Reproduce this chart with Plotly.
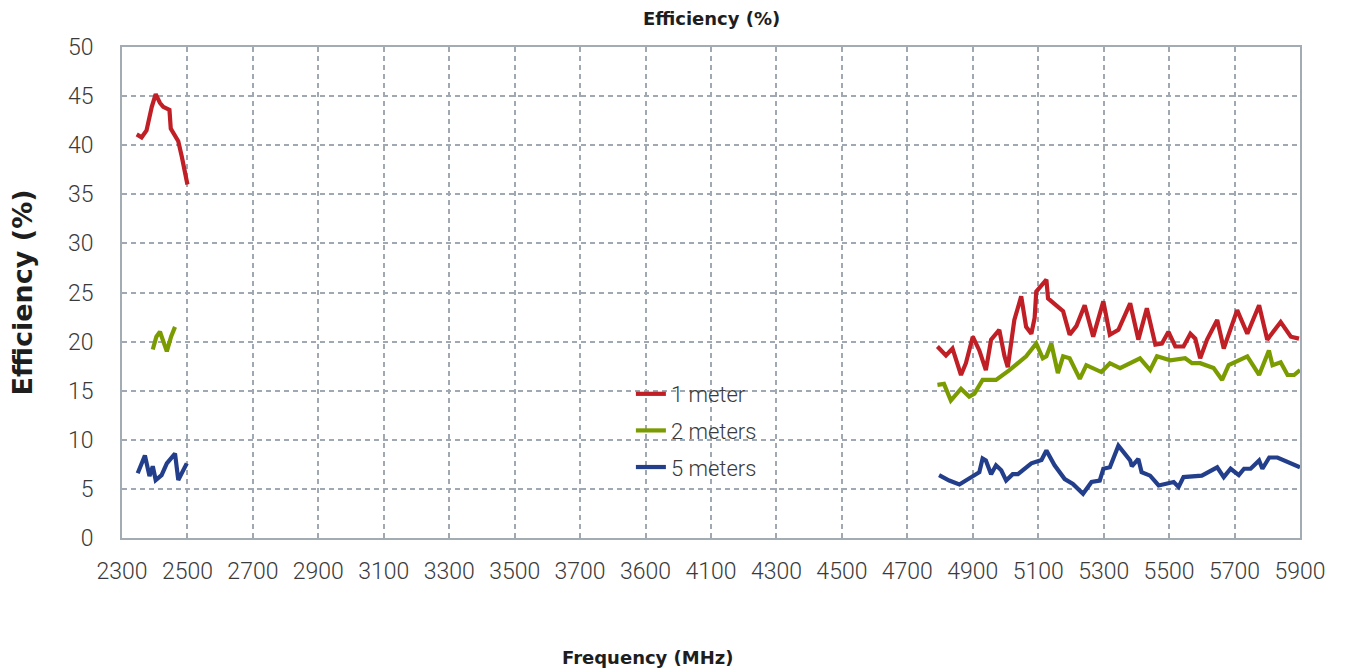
"""Efficiency vs frequency at 1, 2 and 5 meters."""

import plotly.graph_objects as go

# Series: frequency (MHz) and efficiency (%); None splits the two bands
freq_1m = [2345, 2360, 2375, 2391, 2403, 2416, 2426, 2445, 2449, 2472, 2483, 2500, None,
           4792, 4818, 4838, 4864, 4879, 4900, 4920, 4940, 4956, 4981, 4997, 5007, 5027,
           5048, 5063, 5079, 5089, 5094, 5125, 5130, 5155, 5176, 5196, 5217, 5242, 5268,
           5299, 5319, 5345, 5381, 5406, 5432, 5458, 5478, 5498, 5519, 5544, 5565, 5580,
           5595, 5616, 5647, 5667, 5708, 5739, 5775, 5800, 5841, 5872, 5897]
eff_1m = [41.1, 40.8, 41.5, 43.9, 45.2, 44.3, 43.9, 43.6, 41.7, 40.4, 38.8, 36.0, None,
          19.5, 18.6, 19.3, 16.6, 17.8, 20.5, 19.1, 17.1, 20.2, 21.2, 18.5, 17.4, 22.2,
          24.6, 21.5, 20.8, 22.4, 25.1, 26.3, 24.4, 23.7, 23.1, 20.7, 21.6, 23.7, 20.5,
          24.1, 20.7, 21.2, 23.9, 20.2, 23.4, 19.7, 19.8, 21.0, 19.5, 19.5, 20.8, 20.3,
          18.3, 20.2, 22.2, 19.3, 23.2, 20.8, 23.7, 20.2, 22.0, 20.5, 20.3]

freq_2m = [2394, 2405, 2416, 2428, 2437, 2450, 2462, None,
           4792, 4812, 4833, 4864, 4889, 4905, 4930, 4971, 5012, 5063, 5094, 5114, 5125,
           5140, 5160, 5176, 5196, 5227, 5247, 5293, 5319, 5350, 5411, 5442, 5463, 5504,
           5549, 5570, 5595, 5636, 5662, 5682, 5739, 5775, 5805, 5816, 5841, 5862, 5882, 5900]
eff_2m = [19.2, 20.5, 21.0, 20.0, 19.0, 20.5, 21.5, None,
          15.6, 15.7, 14.0, 15.2, 14.4, 14.7, 16.1, 16.1, 17.1, 18.5, 19.8, 18.3, 18.5,
          19.8, 16.8, 18.5, 18.3, 16.2, 17.6, 16.9, 17.8, 17.3, 18.3, 17.1, 18.5, 18.1,
          18.3, 17.8, 17.8, 17.3, 16.1, 17.6, 18.5, 16.6, 19.1, 17.6, 17.9, 16.6, 16.6, 17.1]

freq_5m = [2348, 2370, 2384, 2394, 2403, 2421, 2437, 2462, 2472, 2498, None,
           4797, 4828, 4859, 4894, 4920, 4930, 4940, 4956, 4971, 4987, 5002, 5022, 5038,
           5079, 5110, 5125, 5150, 5181, 5206, 5237, 5263, 5288, 5299, 5319, 5345, 5381,
           5386, 5406, 5416, 5442, 5468, 5514, 5529, 5544, 5600, 5647, 5667, 5688, 5713,
           5729, 5749, 5775, 5785, 5806, 5831, 5900]
eff_5m = [6.6, 8.4, 6.3, 7.3, 5.9, 6.4, 7.6, 8.6, 5.9, 7.6, None,
          6.4, 5.85, 5.45, 6.2, 6.7, 8.1, 7.9, 6.5, 7.4, 6.9, 5.85, 6.5, 6.5,
          7.6, 7.95, 8.9, 7.4, 6.0, 5.5, 4.5, 5.7, 5.85, 7.05, 7.2, 9.4, 7.9,
          7.3, 8.05, 6.7, 6.35, 5.35, 5.7, 5.2, 6.2, 6.35, 7.2, 6.2, 7.05, 6.4,
          7.05, 7.05, 7.9, 7.05, 8.2, 8.2, 7.2]

# Tick labels as printed on the original (note the "3600" slot)
x_tickvals = list(range(2300, 6000, 200))
x_ticktext = ["2300", "2500", "2700", "2900", "3100", "3300", "3500", "3700", "3600",
              "4100", "4300", "4500", "4700", "4900", "5100", "5300", "5500", "5700", "5900"]

SERIES = [
    ("1 meter", freq_1m, eff_1m, "#c01f26"),
    ("2 meters", freq_2m, eff_2m, "#7b9c00"),
    ("5 meters", freq_5m, eff_5m, "#233e8b"),
]

AXIS_GREY = "#a3abb3"
GRID_GREY = "#a0a9b1"
TICK_FONT = dict(family="Roboto", size=23, color="#3a3a3a", weight=300)
BOLD_FONT = "DejaVu Sans"

fig = go.Figure()
for name, xs, ys, color in SERIES:
    fig.add_trace(go.Scatter(x=xs, y=ys, name=name, mode="lines", legendgroup=name,
                             line=dict(color=color, width=4.2)))

fig.update_xaxes(
    range=[2300, 5900],
    tickvals=x_tickvals,
    ticktext=x_ticktext,
    tickfont=TICK_FONT,
    ticks="outside", ticklen=11, tickcolor="rgba(0,0,0,0)",
    showgrid=True, gridcolor=GRID_GREY, griddash="5px,4px", gridwidth=1.6,
    showline=True, linecolor=AXIS_GREY, linewidth=2, mirror=True,
    zeroline=False,
)
fig.update_yaxes(
    range=[0, 50],
    dtick=5,
    tickfont=TICK_FONT,
    ticks="outside", ticklen=22, tickcolor="rgba(0,0,0,0)",
    showgrid=True, gridcolor=GRID_GREY, griddash="5px,4px", gridwidth=1.6,
    showline=True, linecolor=AXIS_GREY, linewidth=2, mirror=True,
    zeroline=False,
    title=dict(text="Efficiency (%)", standoff=27,
               font=dict(family=BOLD_FONT, size=27, color="#1e1e1e", weight="bold")),
)

fig.update_layout(
    width=1349, height=670,
    margin=dict(l=122, r=49, t=47, b=132),
    plot_bgcolor="white", paper_bgcolor="white",
    title=dict(text="Efficiency (%)", x=0.5275, xanchor="center", y=0.972, yanchor="middle",
               font=dict(family=BOLD_FONT, size=18, color="#1e1e1e", weight="bold")),
    showlegend=True,
    legend=dict(x=0.432, y=0.336, xanchor="left", yanchor="top",
                traceorder="grouped", tracegroupgap=5,
                bgcolor="rgba(0,0,0,0)",
                font=dict(family="Roboto", size=22, color="#3a3a3a", weight=300)),
    annotations=[dict(text="Frequency (MHz)", xref="paper", yref="paper",
                      x=0.4465, y=-0.2424, xanchor="center", yanchor="middle", showarrow=False,
                      font=dict(family=BOLD_FONT, size=18, color="#1e1e1e", weight="bold"))],
)

# page body has an 8px default margin; drop it so the figure sits at the window origin
fig.write_html("out.html", config={"displayModeBar": False},
               post_script="document.body.style.margin='0';")
